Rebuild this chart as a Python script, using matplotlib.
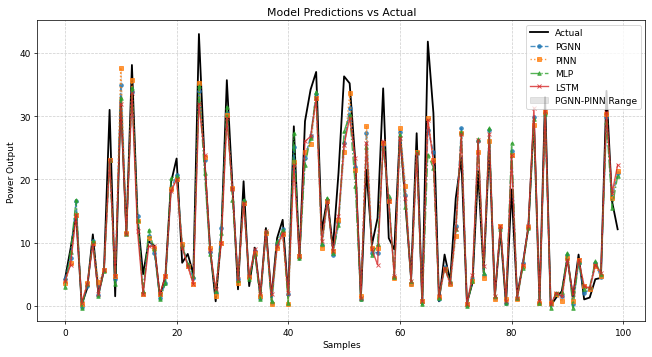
import matplotlib
matplotlib.use("Agg")
from matplotlib import pyplot as plt
import numpy as np

# values
actual = [4.2, 9, 14.5, 0.2, 2.8, 11.3, 1.8, 5.7, 31, 1.5,
          33, 11.5, 38.1, 14, 5, 10.2, 9.5, 1.5, 4.7, 19.5,
          23.3, 6.8, 8.2, 5, 43, 23, 9, 0.7, 11, 35.7,
          19, 2.6, 19.7, 3.1, 9.2, 1.5, 12.3, 1.3, 10.7, 13.6,
          1.5, 28.4, 7.3, 29.2, 34.2, 37, 11.8, 17, 9.2, 21,
          36.3, 35.2, 23, 1.1, 21.5, 9.7, 13.9, 34.4, 10.7, 8.9,
          27.6, 16, 4.4, 27.3, 0.2, 41.8, 30.5, 0.7, 8.1, 3.9,
          17, 23.4, 0.5, 3.6, 21.3, 5.2, 25.5, 1.5, 11.8, 0.2,
          18.4, 1.5, 6.5, 12.4, 29.5, 0.5, 33, 0, 1.3, 2.3,
          7.5, 1.3, 8.1, 1, 1.3, 4.2, 4.4, 34, 16.5, 12.1]

pgnn = [4.2, 7.6, 16.5, -0.2, 3.2, 10.2, 1.7, 5.7, 23.1, 4.2,
        34.9, 11.5, 33.8, 14.2, 1.8, 11, 8.4, 1.3, 3.6, 18.5,
        20.7, 9.6, 6.5, 4.4, 34, 23.1, 8.5, 2, 12.3, 30.5,
        18.4, 4.2, 16.5, 4.5, 8.6, 1.2, 11.6, 0.5, 9.8, 12.1,
        1.8, 25.2, 7.7, 23.4, 26.8, 33.5, 9.6, 16.7, 8.1, 13.3,
        25.7, 31.3, 22, 1.1, 27.3, 8.4, 8.4, 25.5, 16.9, 4.5,
        27.5, 17.6, 3.5, 24.2, 0.6, 27.8, 24.4, 1.1, 6.2, 3.5,
        12.6, 28.1, 0.1, 4.2, 26, 4.9, 27.8, 1.3, 12.3, 0.5,
        24.5, 1.2, 6.8, 12.4, 29.9, 0.5, 30.5, 0.3, 1.8, 1.5,
        8, 0.3, 6.8, 2, 2.6, 6.8, 4.5, 29.8, 17.1, 21]

pinn = [3.6, 6.8, 14.4, 0.2, 3.6, 10, 3.7, 5.7, 23.1, 4.7,
        37.7, 11.5, 35.8, 13.4, 1.8, 10.7, 9.2, 1.8, 4.7, 18.5,
        20, 9.8, 6.3, 3.4, 35.2, 23.6, 9.1, 1.5, 10, 30.2,
        18.6, 3.6, 16.3, 4.5, 8.4, 1.5, 11.5, 0.2, 9.2, 11.3,
        0.2, 22.8, 7.8, 24.4, 25.6, 32.8, 9.2, 16.5, 8.6, 13.6,
        24.4, 33.6, 21.5, 1.5, 28.5, 9.2, 9.2, 25.7, 16.6, 4.4,
        28.1, 18.9, 3.4, 24.4, 0.7, 29.7, 23.1, 1.4, 5.8, 3.4,
        11, 27.3, 0.2, 3.9, 24.4, 4.4, 26, 1.1, 12.6, 1,
        23.8, 1, 6.3, 12.5, 28.6, 0.5, 30.6, 0.5, 1.8, 0.7,
        7.6, 0.7, 7.3, 3.1, 2.6, 6.3, 4.7, 30.3, 17.1, 21.3]

mlp = [2.9, 8.5, 16.8, -0.3, 3.4, 10.2, 1.5, 5.5, 23, 3.4,
       32.8, 11.3, 34.5, 13.5, 2.3, 12, 9, 1, 3.6, 20.2,
       20.5, 9.5, 6.6, 4.7, 34.7, 21, 8.2, 2.3, 11.5, 31.5,
       16.8, 4, 16.8, 4.2, 8.2, 1, 11.8, 0.7, 10.2, 12,
       0.5, 27.3, 7.5, 22.3, 26.5, 33.9, 9.7, 17.1, 8.3, 12.8,
       27.6, 30.2, 18.9, 1, 25.2, 8.1, 9.7, 24.9, 17.3, 4.6,
       27, 15.7, 3.9, 24.4, 0.2, 23.9, 21.8, 1.2, 6, 3.9,
       12.1, 27.5, 0, 3.9, 26.4, 5.2, 28.1, 1.5, 12.1, 0.4,
       25.7, 1.2, 6, 12.3, 29.5, 0.5, 30.3, -0.3, 2, 2.1,
       8.4, -0.3, 7, 2.6, 3, 7.1, 5, 29, 15.5, 20.5]

lstm = [3.9, 6.5, 14.4, 0.5, 3.4, 9.7, 1.8, 5.7, 23.1, 4.7,
        32, 11.3, 33.6, 11.8, 1.8, 9.4, 9.4, 1.8, 4.7, 18.1,
        20, 9.2, 6.3, 3.4, 32, 23.8, 8.8, 2.6, 10, 29.7,
        18.4, 4.2, 16.3, 4.7, 8.9, 1.8, 11.8, 1.8, 9.4, 11.5,
        2, 22.3, 7.8, 26, 26.8, 32.8, 10.2, 16.5, 8.6, 14.2,
        25.5, 29.7, 23.4, 1.2, 25.7, 8.9, 6.5, 26, 16.5, 4.7,
        26.6, 17, 3.9, 24.2, 0.7, 29.4, 22.8, 1.5, 6, 3.6,
        12.1, 27.1, 0.2, 4.9, 26.2, 6.3, 27.2, 1.5, 12.6, 0.7,
        23.8, 1.3, 6.5, 12.6, 31.3, 0.7, 30.8, 0.2, 2, 1.5,
        7.3, 1.8, 7.3, 3.1, 2.8, 6.5, 5.2, 30.6, 17.8, 22.3]

samples = np.arange(len(actual))

fig = plt.figure(figsize=(10, 5.49), dpi=65.2)
ax = fig.add_axes([0.0572, 0.0997, 0.9325, 0.8408])

ax.plot(samples, actual, color="black", linewidth=2, label="Actual")
ax.plot(samples, pgnn, color="#1f77b4", linestyle="--", marker="o", markersize=4, alpha=0.8, label="PGNN")
ax.plot(samples, pinn, color="#ff7f0e", linestyle=":", marker="s", markersize=4, alpha=0.8, label="PINN")
ax.plot(samples, mlp, color="#2ca02c", linestyle="-.", marker="^", markersize=4, alpha=0.8, label="MLP")
ax.plot(samples, lstm, color="#d62728", linestyle="-", marker="x", markersize=4, alpha=0.8, label="LSTM")
ax.fill_between(samples, pgnn, pinn, color="gray", alpha=0.2, label="PGNN-PINN Range")

ax.set_title("Model Predictions vs Actual", fontsize=12)
ax.set_xlabel("Samples")
ax.set_ylabel("Power Output")
ax.grid(True, linestyle="--", alpha=0.6)
ax.legend(loc="upper right")

fig.savefig("out.png", dpi=65.2)
